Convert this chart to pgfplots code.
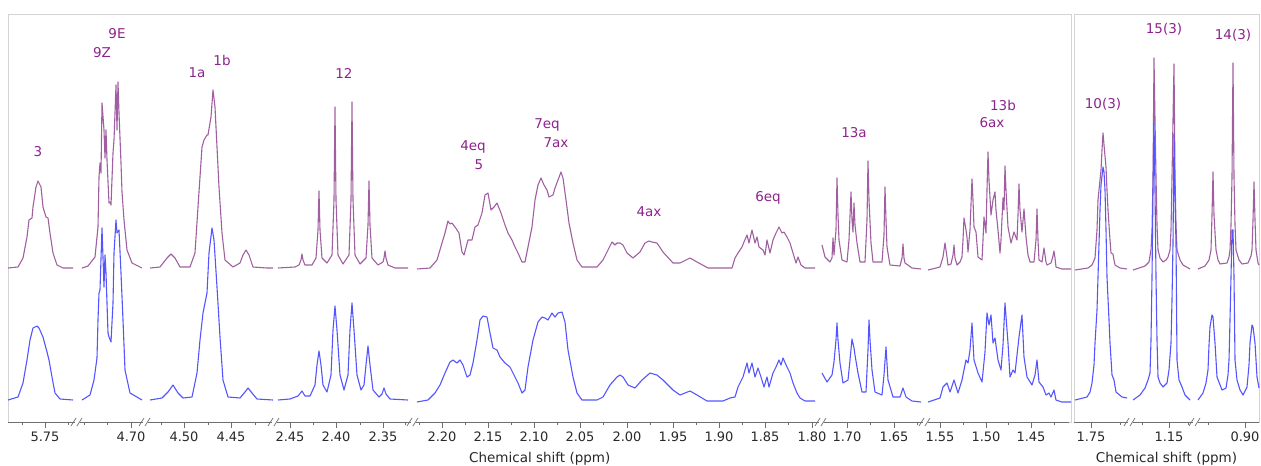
\documentclass[border=0pt]{standalone}
\usepackage{fontspec}
\setmainfont{DejaVu Sans}
\usepackage{pgfplots}
\pgfplotsset{compat=1.18}
\definecolor{purc}{RGB}{160,95,160}
\definecolor{bluc}{RGB}{85,85,255}
\definecolor{labc}{RGB}{140,35,140}
\definecolor{framec}{RGB}{212,212,212}
\definecolor{tickc}{RGB}{110,110,110}
\definecolor{textc}{RGB}{40,40,40}
\tikzset{lab/.style={text=labc, font=\fontsize{13.5bp}{15bp}\selectfont, inner sep=0pt}}
\pgfplotsset{
  pur/.style={color=purc, line width=1.1bp, no marks, line join=round},
  blu/.style={color=bluc, line width=1.1bp, no marks, line join=round},
  nmr/.style={x=1bp, y=1bp, anchor=south west, ymin=-422, ymax=-14,
    clip=false, axis line style={draw=framec, line width=0.8bp},
    ytick=\empty, xtick pos=left, tick align=outside,
    major tick length=6bp, minor tick length=3bp,
    tick style={draw=tickc, line width=0.6bp},
    xticklabel style={font=\fontsize{13bp}{14bp}\selectfont, text=textc},
    xlabel style={font=\fontsize{13.5bp}{15bp}\selectfont, text=textc, yshift=-4bp},
    xlabel={Chemical shift (ppm)}}
}
\begin{document}
\begin{tikzpicture}
\useasboundingbox (0,0) rectangle (1261bp,-466bp);
% ---------------- left panel ----------------
\begin{axis}[nmr, at={(8bp,-422bp)}, xmin=8, xmax=1071.5,
  xtick={45,131,184,231,290,336,383,442,488,534,580,627,673,719,765,812,847,894,940,986,1031},
  xticklabels={5.75,4.70,4.50,4.45,2.45,2.40,2.35,2.20,2.15,2.10,2.05,2.00,1.95,1.90,1.85,1.80,1.70,1.65,1.55,1.50,1.45},
  minor xtick={22,68,84,107,161,208,255,313,360,405,419,465,511,557,603,650,696,742,788,870,917,963,1008,1054}]
% ---- purple (upper) trace ----
\addplot[pur] coordinates {(8,-268) (18,-267) (23,-258) (27,-237) (29,-220) (32,-218) (33,-207) (36,-187) (38,-181) (39,-183) (41,-187) (43,-207) (46,-217) (48,-218) (50,-233) (53,-253) (57,-265) (63,-268) (73,-268)};
\addplot[pur] coordinates {(82,-268) (88,-266) (95,-257) (98,-227) (99,-177) (100,-163) (101,-173) (102,-103) (104,-130) (105,-158) (106,-130) (107,-160) (109,-203) (110,-202) (111,-205) (113,-153) (114,-140) (115,-113) (116,-85) (117,-130) (118,-82) (119,-113) (121,-163) (122,-192) (124,-220) (127,-250) (132,-263) (142,-268)};
\addplot[pur] coordinates {(150,-268) (160,-267) (167,-258) (171,-254) (175,-258) (180,-267) (190,-267) (195,-253) (198,-207) (202,-147) (204,-140) (207,-135) (208,-135) (211,-117) (213,-90) (215,-107) (217,-147) (219,-187) (222,-233) (225,-260) (233,-267) (240,-263) (243,-255) (246,-250) (249,-255) (253,-267) (267,-268) (273,-268)};
\addplot[pur] coordinates {(278,-268) (295,-267) (299,-265) (301,-260) (302,-254) (303,-260) (305,-265) (312,-265) (316,-258) (318,-230) (319,-191) (320,-230) (322,-258) (327,-263) (332,-255) (334,-200) (335,-107) (336,-200) (338,-255) (343,-264) (349,-255) (351,-200) (352,-102) (353,-200) (355,-255) (360,-264) (366,-258) (368,-225) (369,-181) (370,-225) (372,-258) (378,-265) (383,-262) (384,-258) (385,-251) (386,-258) (388,-265) (395,-268) (408,-268)};
\addplot[pur] coordinates {(417,-269) (430,-268) (437,-260) (442,-243) (445,-233) (448,-221) (450,-224) (452,-223) (455,-227) (457,-230) (459,-233) (462,-252) (464,-255) (468,-240) (472,-240) (475,-227) (478,-225) (482,-213) (485,-195) (488,-193) (491,-210) (494,-207) (497,-203) (501,-213) (505,-225) (508,-233) (512,-240) (515,-247) (518,-253) (522,-262) (525,-262) (528,-247) (532,-227) (535,-200) (538,-185) (541,-178) (544,-185) (547,-190) (549,-197) (553,-195) (555,-188) (558,-180) (561,-172) (563,-178) (566,-200) (569,-223) (573,-243) (577,-260) (582,-267) (597,-267) (603,-260) (608,-250) (612,-242) (615,-245) (617,-243) (620,-243) (623,-245) (627,-253) (633,-258) (640,-252) (645,-243) (649,-241) (652,-242) (657,-243) (663,-252) (673,-263) (680,-263) (690,-258) (697,-262) (708,-268) (732,-268) (735,-258) (738,-253) (742,-247) (744,-242) (747,-235) (749,-243) (752,-230) (755,-243) (757,-237) (759,-247) (763,-250) (765,-255) (767,-240) (770,-253) (773,-240) (776,-233) (779,-227) (782,-233) (784,-232) (787,-237) (790,-243) (793,-253) (796,-263) (798,-257) (801,-265) (805,-268) (815,-268)};
\addplot[pur] coordinates {(822,-245) (825,-257) (830,-262) (832,-258) (833,-238) (834,-255) (836,-230) (837,-178) (838,-215) (839,-240) (842,-260) (847,-262) (849,-240) (851,-192) (852,-220) (853,-232) (854,-203) (855,-225) (857,-243) (860,-262) (865,-262) (867,-220) (868,-161) (869,-200) (871,-243) (873,-262) (882,-262) (884,-235) (885,-187) (886,-220) (887,-247) (890,-265) (900,-266) (902,-258) (903,-244) (904,-258) (905,-263) (912,-268) (921,-269)};
\addplot[pur] coordinates {(928,-270) (940,-267) (943,-257) (945,-243) (947,-257) (948,-265) (951,-264) (953,-255) (954,-245) (955,-258) (957,-265) (960,-262) (962,-257) (963,-240) (964,-218) (966,-230) (967,-237) (968,-252) (970,-230) (972,-179) (973,-200) (974,-227) (976,-232) (978,-257) (982,-260) (983,-240) (984,-217) (985,-225) (986,-233) (987,-190) (988,-152) (989,-180) (991,-215) (993,-200) (995,-192) (996,-210) (998,-230) (1000,-253) (1001,-240) (1003,-198) (1004,-210) (1005,-166) (1006,-190) (1008,-227) (1011,-243) (1014,-232) (1017,-240) (1018,-215) (1019,-184) (1020,-210) (1022,-232) (1024,-209) (1026,-237) (1028,-255) (1030,-262) (1034,-262) (1036,-240) (1037,-209) (1038,-240) (1039,-260) (1042,-262) (1044,-248) (1046,-262) (1047,-265) (1051,-263) (1053,-256) (1054,-251) (1055,-258) (1056,-267) (1062,-269) (1071,-269)};
% ---- blue (lower) trace ----
\addplot[blu] coordinates {(8,-400) (18,-397) (23,-383) (27,-360) (30,-340) (33,-328) (37,-326) (39,-328) (43,-337) (47,-352) (49,-360) (52,-377) (55,-393) (60,-399) (73,-400)};
\addplot[blu] coordinates {(82,-400) (90,-395) (94,-380) (97,-358) (98,-320) (99,-293) (100,-290) (102,-228) (104,-287) (105,-255) (106,-273) (108,-333) (109,-337) (111,-342) (113,-303) (114,-253) (116,-220) (117,-233) (119,-230) (121,-273) (123,-320) (125,-370) (130,-393) (142,-400)};
\addplot[blu] coordinates {(150,-400) (162,-398) (168,-392) (173,-385) (178,-393) (183,-398) (192,-397) (197,-373) (200,-340) (203,-313) (207,-293) (209,-253) (212,-228) (214,-240) (217,-287) (220,-337) (223,-380) (228,-397) (240,-398) (245,-392) (248,-388) (252,-393) (257,-399) (273,-400)};
\addplot[blu] coordinates {(278,-400) (290,-399) (298,-396) (302,-391) (305,-396) (310,-396) (315,-385) (317,-365) (319,-351) (321,-365) (323,-385) (327,-392) (331,-375) (333,-330) (335,-306) (337,-330) (340,-375) (344,-390) (348,-375) (350,-330) (352,-303) (354,-330) (357,-375) (361,-390) (364,-385) (366,-365) (368,-346) (370,-365) (373,-390) (379,-397) (382,-394) (384,-388) (386,-394) (390,-399) (408,-400)};
\addplot[blu] coordinates {(417,-402) (428,-400) (435,-393) (440,-385) (445,-373) (450,-362) (453,-360) (457,-363) (460,-360) (463,-365) (467,-377) (470,-375) (473,-363) (477,-340) (480,-320) (483,-316) (487,-317) (490,-333) (493,-348) (497,-350) (500,-357) (505,-363) (510,-367) (515,-377) (518,-383) (522,-393) (525,-390) (528,-367) (533,-340) (538,-322) (542,-317) (545,-318) (548,-320) (552,-313) (555,-317) (558,-313) (562,-312) (565,-322) (568,-350) (573,-377) (577,-393) (582,-400) (597,-400) (603,-397) (610,-385) (617,-377) (620,-375) (623,-377) (628,-385) (635,-388) (642,-380) (650,-373) (657,-375) (663,-380) (673,-390) (680,-395) (690,-391) (697,-395) (707,-401) (723,-401) (730,-398) (735,-397) (738,-387) (743,-377) (747,-363) (749,-373) (752,-363) (755,-377) (758,-368) (761,-377) (764,-387) (767,-377) (769,-387) (773,-373) (776,-367) (779,-360) (781,-365) (783,-358) (787,-367) (790,-373) (793,-383) (797,-393) (800,-398) (805,-401) (815,-401)};
\addplot[blu] coordinates {(822,-373) (827,-382) (832,-375) (834,-362) (836,-340) (837,-323) (838,-340) (840,-363) (843,-383) (848,-380) (850,-360) (852,-339) (854,-348) (855,-355) (858,-373) (862,-392) (866,-392) (868,-350) (869,-320) (870,-340) (872,-370) (875,-392) (882,-395) (884,-375) (886,-347) (888,-380) (893,-397) (900,-397) (903,-388) (906,-397) (912,-401) (921,-402)};
\addplot[blu] coordinates {(928,-402) (940,-398) (943,-387) (947,-383) (950,-392) (954,-380) (958,-393) (962,-380) (966,-360) (968,-363) (970,-350) (972,-323) (974,-360) (978,-373) (982,-382) (985,-352) (987,-313) (989,-325) (991,-315) (993,-343) (995,-338) (998,-360) (1001,-370) (1003,-345) (1005,-303) (1008,-343) (1010,-377) (1013,-370) (1015,-373) (1019,-337) (1022,-315) (1024,-357) (1027,-377) (1032,-385) (1035,-375) (1037,-360) (1039,-382) (1043,-387) (1046,-395) (1049,-393) (1051,-397) (1054,-390) (1056,-400) (1062,-402) (1071,-402)};
% ---- axis line and breaks ----
\draw[tickc, line width=0.7bp] (axis cs:8,-422) -- (axis cs:1069,-422);
\fill[white] (axis cs:74.5,-424) rectangle (axis cs:79.5,-420);
\draw[tickc, line width=0.7bp] (axis cs:71,-426) -- (axis cs:76,-418) (axis cs:77,-426) -- (axis cs:82,-418);
\fill[white] (axis cs:142.5,-424) rectangle (axis cs:147.5,-420);
\draw[tickc, line width=0.7bp] (axis cs:139,-426) -- (axis cs:144,-418) (axis cs:145,-426) -- (axis cs:150,-418);
\fill[white] (axis cs:271.5,-424) rectangle (axis cs:276.5,-420);
\draw[tickc, line width=0.7bp] (axis cs:268,-426) -- (axis cs:273,-418) (axis cs:274,-426) -- (axis cs:279,-418);
\fill[white] (axis cs:410.5,-424) rectangle (axis cs:415.5,-420);
\draw[tickc, line width=0.7bp] (axis cs:407,-426) -- (axis cs:412,-418) (axis cs:413,-426) -- (axis cs:418,-418);
\fill[white] (axis cs:818.5,-424) rectangle (axis cs:823.5,-420);
\draw[tickc, line width=0.7bp] (axis cs:815,-426) -- (axis cs:820,-418) (axis cs:821,-426) -- (axis cs:826,-418);
\fill[white] (axis cs:922.5,-424) rectangle (axis cs:927.5,-420);
\draw[tickc, line width=0.7bp] (axis cs:919,-426) -- (axis cs:924,-418) (axis cs:925,-426) -- (axis cs:930,-418);
% ---- peak labels ----
\node[lab] at (axis cs:38,-152) {3};
\node[lab] at (axis cs:102,-53) {9Z};
\node[lab] at (axis cs:117,-34) {9E};
\node[lab] at (axis cs:197,-73) {1a};
\node[lab] at (axis cs:222,-60) {1b};
\node[lab] at (axis cs:344,-73) {12};
\node[lab] at (axis cs:473,-147) {4eq};
\node[lab] at (axis cs:479,-165) {5};
\node[lab] at (axis cs:547,-125) {7eq};
\node[lab] at (axis cs:556,-143) {7ax};
\node[lab] at (axis cs:649,-212) {4ax};
\node[lab] at (axis cs:768,-198) {6eq};
\node[lab] at (axis cs:854,-133) {13a};
\node[lab] at (axis cs:1003,-105) {13b};
\node[lab] at (axis cs:992,-123) {6ax};
\end{axis}
% ---------------- right panel ----------------
\begin{axis}[nmr, at={(1074bp,-422bp)}, xmin=1074, xmax=1259,
  xtick={1091,1169,1245}, xticklabels={1.75,1.15,0.90},
  minor xtick={1120,1142,1188,1208}]
\addplot[pur] coordinates {(1075,-270) (1088,-268) (1092,-265) (1095,-258) (1097,-230) (1098,-200) (1100,-180) (1101,-170) (1102,-150) (1103,-133) (1104,-145) (1106,-167) (1107,-190) (1108,-210) (1110,-240) (1111,-253) (1113,-254) (1114,-260) (1115,-265) (1120,-268) (1127,-269)};
\addplot[pur] coordinates {(1133,-270) (1145,-266) (1149,-262) (1151,-250) (1152,-230) (1153,-177) (1154,-58) (1155,-120) (1156,-177) (1157,-225) (1158,-250) (1160,-258) (1163,-262) (1166,-260) (1168,-257) (1170,-250) (1171,-230) (1172,-177) (1173,-120) (1174,-64) (1175,-177) (1176,-225) (1177,-250) (1180,-260) (1183,-265) (1190,-269)};
\addplot[pur] coordinates {(1198,-269) (1205,-266) (1209,-260) (1211,-250) (1212,-215) (1213,-172) (1214,-215) (1216,-250) (1218,-260) (1220,-264) (1227,-263) (1229,-257) (1230,-250) (1231,-225) (1232,-177) (1233,-63) (1234,-177) (1235,-225) (1236,-250) (1239,-260) (1242,-264) (1248,-263) (1251,-256) (1252,-250) (1253,-220) (1254,-182) (1255,-220) (1256,-250) (1258,-263) (1259,-265)};
\addplot[blu] coordinates {(1075,-400) (1087,-397) (1090,-392) (1092,-383) (1094,-365) (1095,-343) (1097,-310) (1098,-277) (1100,-210) (1101,-185) (1103,-167) (1104,-172) (1105,-190) (1106,-230) (1107,-277) (1109,-320) (1110,-343) (1112,-375) (1114,-380) (1116,-392) (1122,-397) (1127,-398)};
\addplot[blu] coordinates {(1133,-400) (1140,-395) (1145,-388) (1148,-380) (1150,-373) (1151,-340) (1152,-277) (1153,-190) (1154,-123) (1155,-190) (1156,-277) (1157,-340) (1158,-377) (1160,-383) (1163,-387) (1167,-383) (1169,-370) (1171,-343) (1172,-300) (1173,-243) (1174,-134) (1175,-200) (1176,-243) (1177,-360) (1179,-380) (1182,-387) (1185,-395) (1190,-400)};
\addplot[blu] coordinates {(1198,-400) (1203,-393) (1206,-383) (1208,-370) (1209,-345) (1210,-327) (1212,-315) (1213,-317) (1214,-330) (1215,-343) (1217,-377) (1222,-390) (1226,-388) (1228,-375) (1229,-360) (1230,-320) (1231,-277) (1232,-230) (1233,-230) (1234,-277) (1235,-360) (1237,-380) (1240,-390) (1243,-395) (1247,-387) (1249,-365) (1250,-343) (1252,-325) (1253,-327) (1255,-343) (1257,-377) (1259,-388)};
\draw[tickc, line width=0.7bp] (axis cs:1074,-422) -- (axis cs:1259,-422);
\fill[white] (axis cs:1127.5,-424) rectangle (axis cs:1132.5,-420);
\draw[tickc, line width=0.7bp] (axis cs:1124,-426) -- (axis cs:1129,-418) (axis cs:1130,-426) -- (axis cs:1135,-418);
\fill[white] (axis cs:1192.5,-424) rectangle (axis cs:1197.5,-420);
\draw[tickc, line width=0.7bp] (axis cs:1189,-426) -- (axis cs:1194,-418) (axis cs:1195,-426) -- (axis cs:1200,-418);
\node[lab] at (axis cs:1103,-104) {10(3)};
\node[lab] at (axis cs:1164,-29) {15(3)};
\node[lab] at (axis cs:1233,-35) {14(3)};
\end{axis}
\end{tikzpicture}
\end{document}
